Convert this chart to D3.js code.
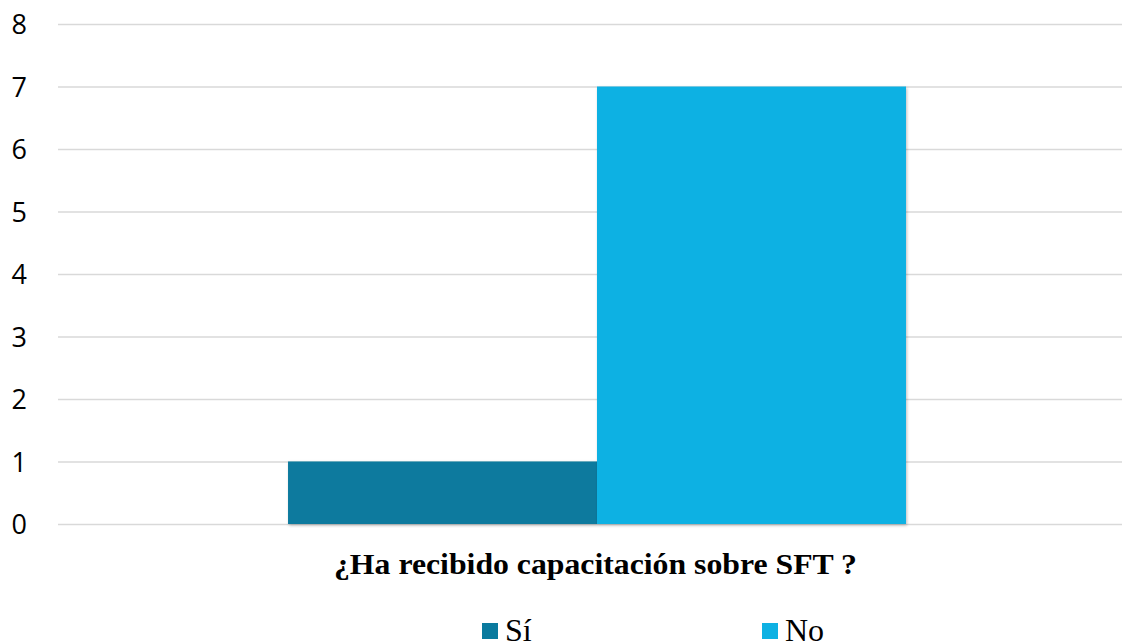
<!DOCTYPE html>
<html>
<head>
<meta charset="utf-8">
<script src="https://cdn.jsdelivr.net/npm/d3@7"></script>
<style>
  body { margin: 0; background: #fff; overflow: hidden; }
  svg { display: block; }
</style>
</head>
<body>
<div id="chart"></div>
<script>
const categories = ['¿Ha recibido capacitación sobre SFT ?'];
const seriesNames = ['Sí', 'No'];
const seriesValues = [[1], [7]];
const seriesColors = ['#0a7a9e', '#0eb1e3'];
const yTicks = [0, 1, 2, 3, 4, 5, 6, 7, 8];

const width = 1122, height = 642;
const margin = { top: 24, right: 0, bottom: 118, left: 58 };

const svg = d3.select('#chart').append('svg')
  .attr('width', width)
  .attr('height', height);

const defs = svg.append('defs');
const shadow = defs.append('filter')
  .attr('id', 'shadow')
  .attr('x', '-5%').attr('y', '-5%')
  .attr('width', '110%').attr('height', '110%');
shadow.append('feDropShadow')
  .attr('dx', 1).attr('dy', 1.5)
  .attr('stdDeviation', 1.5)
  .attr('flood-color', '#000')
  .attr('flood-opacity', 0.25);

const y = d3.scaleLinear()
  .domain([0, 8])
  .range([height - margin.bottom, margin.top]);

const x0 = d3.scaleBand()
  .domain(categories)
  .range([70, 1124])
  .paddingInner(0)
  .paddingOuter(0.3528);

const x1 = d3.scaleBand()
  .domain(seriesNames)
  .range([0, x0.bandwidth()])
  .padding(0);

// gridlines + tick labels
const yAxis = d3.axisLeft(y)
  .tickValues(yTicks)
  .tickSize(-(width - margin.left))
  .tickFormat(d3.format('d'));

const gy = svg.append('g')
  .attr('transform', `translate(${margin.left},0)`)
  .call(yAxis);
gy.select('.domain').remove();
gy.selectAll('.tick line')
  .attr('stroke', '#d9d9d9')
  .attr('stroke-width', 1.5);
gy.selectAll('.tick text')
  .attr('x', -31)
  .attr('dy', '0.36em')
  .attr('fill', '#000')
  .style('font-family', '"Open Sans", "Noto Sans", sans-serif')
  .style('font-size', '27px');

// bars
const rows = seriesNames.map((name, i) => ({ name, value: seriesValues[i][0], color: seriesColors[i] }));
const group = svg.append('g')
  .attr('transform', `translate(${x0(categories[0])},0)`);

group.selectAll('rect')
  .data(rows)
  .join('rect')
  .attr('x', d => x1(d.name))
  .attr('y', d => y(d.value))
  .attr('width', x1.bandwidth())
  .attr('height', d => y(0) - y(d.value))
  .attr('fill', d => d.color)
  .attr('filter', 'url(#shadow)');

// category label
svg.append('text')
  .attr('x', 334)
  .attr('y', 574)
  .attr('textLength', 523)
  .attr('lengthAdjust', 'spacingAndGlyphs')
  .style('font-family', '"Liberation Serif", "Times New Roman", serif')
  .style('font-weight', 'bold')
  .style('font-size', '30px')
  .text(categories[0]);

// legend
const legendX = [482, 762];
const legend = svg.append('g');
rows.forEach((d, i) => {
  const g = legend.append('g').attr('transform', `translate(${legendX[i]},623)`);
  g.append('rect')
    .attr('width', 16).attr('height', 16)
    .attr('fill', d.color);
  g.append('text')
    .attr('x', 23)
    .attr('y', 18)
    .style('font-family', '"Liberation Serif", "Times New Roman", serif')
    .style('font-size', '32px')
    .text(d.name);
});
</script>
</body>
</html>
